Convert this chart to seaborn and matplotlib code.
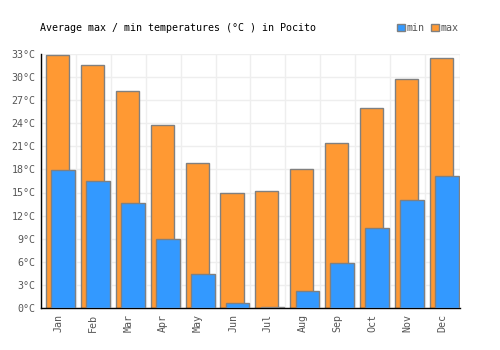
import numpy as np
import pandas as pd
import matplotlib.pyplot as plt
import seaborn as sns
from matplotlib.patches import Patch

# monthly averages
months = ["Jan", "Feb", "Mar", "Apr", "May", "Jun", "Jul", "Aug", "Sep", "Oct", "Nov", "Dec"]
t_max = [32.9, 31.6, 28.2, 23.8, 18.8, 14.9, 15.2, 18.0, 21.4, 26.0, 29.7, 32.5]
t_min = [17.9, 16.5, 13.6, 9.0, 4.4, 0.6, 0.1, 2.2, 5.8, 10.4, 14.0, 17.1]
y_ticks = list(range(0, 34, 3))

c_max = "#ff9933"
c_min = "#3399ff"
edge = "#808080"

sns.set_style("white")
plt.rcParams["font.family"] = ["DejaVu Sans Mono"]
plt.rcParams["font.size"] = 7.2

df = pd.DataFrame({"month": months, "max": t_max, "min": t_min})
df["pos"] = np.arange(len(months))

fig = plt.figure(figsize=(5, 3.5), dpi=100)
ax = fig.add_axes([0.082, 0.12, 0.838, 0.726])

# max bars sit behind, shifted left; min bars in front, shifted right
sns.barplot(x=df["pos"] + 0.47, y=df["max"], native_scale=True, width=0.66,
            color=c_max, saturation=1, edgecolor=edge, linewidth=1, ax=ax, zorder=2)
sns.barplot(x=df["pos"] + 0.63, y=df["min"], native_scale=True, width=0.68,
            color=c_min, saturation=1, edgecolor=edge, linewidth=1, ax=ax, zorder=3)

ax.set_xlim(0, 12)
ax.set_ylim(0, 33)
ax.set_xticks(df["pos"] + 0.5)
ax.set_xticklabels(months, rotation=90, color="#555555")
ax.set_yticks(y_ticks)
ax.set_yticklabels([f"{v}°C" for v in y_ticks], color="#555555")
ax.set_xticks(np.arange(0, 13), minor=True)
ax.grid(False)
ax.grid(True, which="minor", axis="x", color="#eeeeee", linewidth=1, zorder=0)
ax.grid(True, which="major", axis="y", color="#eeeeee", linewidth=1, zorder=0)
ax.set_axisbelow(True)
ax.tick_params(axis="both", which="both", length=0, pad=4)
ax.set_xlabel("")
ax.set_ylabel("")

for s in ["top", "right"]:
    ax.spines[s].set_visible(False)
for s in ["left", "bottom"]:
    ax.spines[s].set_color("black")
    ax.spines[s].set_linewidth(1)

fig.text(0.08, 0.92, "Average max / min temperatures (°C ) in Pocito",
         ha="left", va="center", color="black")

handles = [Patch(facecolor=c_min, edgecolor=edge, label="min"),
           Patch(facecolor=c_max, edgecolor=edge, label="max")]
fig.legend(handles=handles, loc="center right", bbox_to_anchor=(0.925, 0.92),
           ncol=2, frameon=False, handlelength=0.8, handleheight=0.8,
           handletextpad=0.2, columnspacing=0.6, labelcolor="#555555",
           borderaxespad=0)

fig.savefig("out.png", dpi=100)
